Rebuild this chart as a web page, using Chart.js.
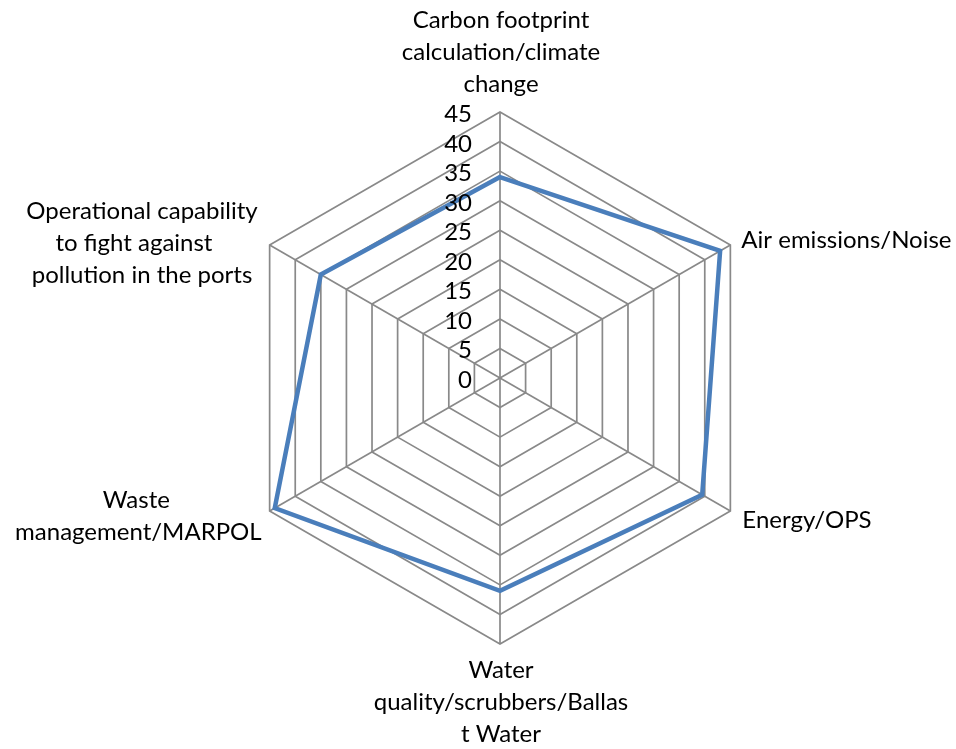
<!DOCTYPE html>
<html>
<head>
<meta charset="utf-8">
<script src="https://cdn.jsdelivr.net/npm/chart.js@4/dist/chart.umd.min.js"></script>
<style>
  html, body { margin: 0; padding: 0; background: #ffffff; }
  #wrap { width: 956px; height: 749px; position: relative; }
</style>
</head>
<body>
<div id="wrap"><canvas id="radar"></canvas></div>
<script>
// Axis categories (each entry holds the wrapped lines of the label)
const categories = [
  ['Carbon footprint', 'calculation/climate', 'change'],
  ['Air emissions/Noise'],
  ['Energy/OPS'],
  ['Water', 'quality/scrubbers/Ballas', 't Water'],
  ['Waste', 'management/MARPOL'],
  ['Operational capability', 'to fight against', 'pollution in the ports']
];

// Series values, one per category
const scoreValues = [34, 43, 39.5, 36, 44, 35];

// Radial tick labels
const tickValues = [0, 5, 10, 15, 20, 25, 30, 35, 40, 45];

const FONT = '24px Lato, "Liberation Sans", sans-serif';
const LINE_GAP = 32;

// Where each category label sits relative to its axis end
// block: how the text block is anchored horizontally; lines are centred inside the block
const labelPlacement = [
  { block: 'center', dx: 1,   dy: -84, shift: [] },
  { block: 'left',   dx: 11,  dy: 3,   shift: [] },
  { block: 'left',   dx: 12,  dy: 17,  shift: [] },
  { block: 'center', dx: 1,   dy: 34,  shift: [] },
  { block: 'right',  dx: -8,  dy: -3,  shift: [-2, 0] },
  { block: 'right',  dx: -12, dy: -26, shift: [0, -8, 0] }
];

const radarLabels = {
  id: 'radarLabels',
  afterDraw(chart) {
    const scale = chart.scales.r;
    const ctx = chart.ctx;
    ctx.save();
    ctx.font = FONT;
    ctx.fillStyle = '#000000';
    ctx.textBaseline = 'alphabetic';

    // tick numbers, placed left of the vertical axis
    ctx.textAlign = 'right';
    tickValues.forEach(v => {
      const d = scale.getDistanceFromCenterForValue(v);
      ctx.fillText(String(v), scale.xCenter - 28, scale.yCenter - d + 10);
    });

    // category labels
    ctx.textAlign = 'center';
    categories.forEach((lines, i) => {
      const p = scale.getPointPosition(i, scale.drawingArea);
      const cfg = labelPlacement[i];
      const blockW = Math.max(...lines.map(t => ctx.measureText(t).width));
      const ax = p.x + cfg.dx;
      let mid;
      if (cfg.block === 'center') mid = ax;
      else if (cfg.block === 'left') mid = ax + blockW / 2;
      else mid = ax - blockW / 2;
      lines.forEach((t, k) => {
        ctx.fillText(t, mid + (cfg.shift[k] || 0), p.y + cfg.dy + k * LINE_GAP);
      });
    });
    ctx.restore();
  }
};

new Chart(document.getElementById('radar'), {
  type: 'radar',
  data: {
    labels: categories.map(l => l.join(' ')),
    datasets: [{
      label: 'Score',
      data: scoreValues,
      borderColor: '#4a7ebb',
      borderWidth: 4.5,
      fill: false,
      pointRadius: 0,
      pointHoverRadius: 0,
      tension: 0,
      borderJoinStyle: 'miter'
    }]
  },
  options: {
    responsive: true,
    maintainAspectRatio: false,
    animation: false,
    layout: { padding: { top: 112, bottom: 105, left: 234, right: 190 } },
    plugins: { legend: { display: false }, tooltip: { enabled: false } },
    scales: {
      r: {
        min: 0,
        max: 45,
        ticks: { stepSize: 5, display: false },
        grid: { color: '#898989', lineWidth: 1.7 },
        angleLines: { color: '#898989', lineWidth: 1.7 },
        pointLabels: { display: false }
      }
    }
  },
  plugins: [radarLabels]
});
</script>
</body>
</html>
